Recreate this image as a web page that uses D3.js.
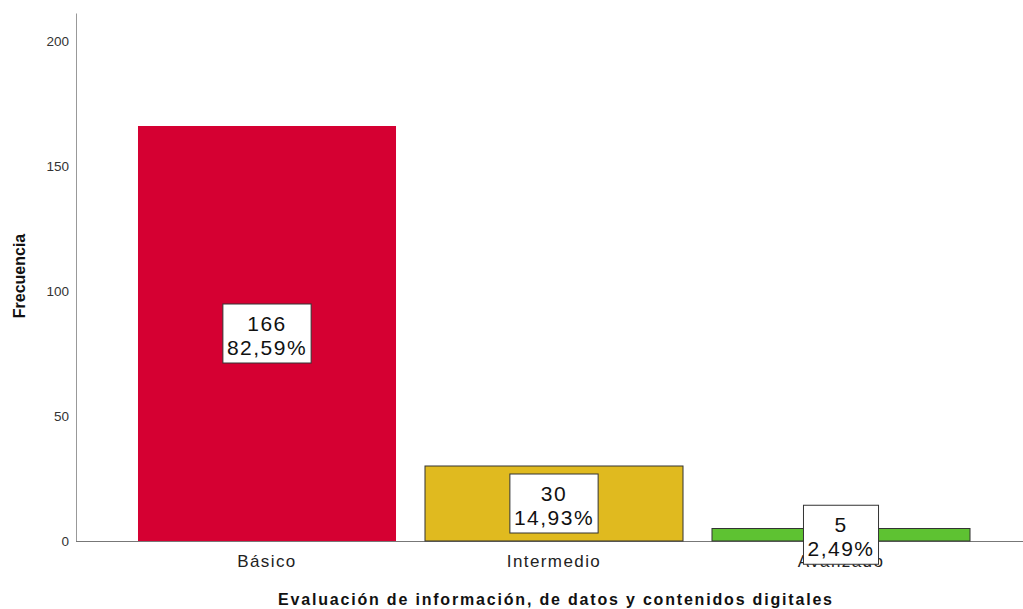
<!DOCTYPE html>
<html>
<head>
<meta charset="utf-8">
<script src="https://cdn.jsdelivr.net/npm/d3@7"></script>
<style>
  body { margin: 0; background: #fff; }
  svg { display: block; font-family: Arial, "Liberation Sans", sans-serif; }
</style>
</head>
<body>
<div id="chart"></div>
<script>
const categories = ["Básico", "Intermedio", "Avanzado"];
const counts = [166, 30, 5];
const percents = ["82,59%", "14,93%", "2,49%"];
const barColors = ["#d50032", "#e0ba1f", "#5ec232"];
const yTicks = [0, 50, 100, 150, 200];

const w = 1023, h = 609;
const svg = d3.select("#chart").append("svg")
  .attr("width", w).attr("height", h);

const yScale = d3.scaleLinear().domain([0, 200]).range([541, 41]);
const xScale = d3.scaleBand()
  .domain(categories)
  .range([123.5, 984.5])
  .paddingInner(0.101)
  .paddingOuter(0.0505);

// axis lines
svg.append("line")
  .attr("x1", 76.5).attr("x2", 76.5)
  .attr("y1", yScale(211)).attr("y2", yScale(0))
  .attr("stroke", "#999").attr("stroke-width", 1);
svg.append("line")
  .attr("x1", 76).attr("x2", w)
  .attr("y1", yScale(0) + 0.5).attr("y2", yScale(0) + 0.5)
  .attr("stroke", "#777").attr("stroke-width", 1);

const yAxis = d3.axisLeft(yScale).tickValues(yTicks).tickSize(0).tickPadding(7);
const gy = svg.append("g").attr("transform", "translate(76,0)").call(yAxis);
gy.select(".domain").remove();
gy.selectAll("text").attr("font-size", 13.5).attr("fill", "#333")
  .attr("font-family", "Arial, 'Liberation Sans', sans-serif");

// bars
svg.selectAll("rect.bar")
  .data(categories)
  .enter()
  .append("rect")
  .attr("class", "bar")
  .attr("x", d => xScale(d))
  .attr("y", (d, i) => yScale(counts[i]))
  .attr("width", xScale.bandwidth())
  .attr("height", (d, i) => yScale(0) - yScale(counts[i]))
  .attr("fill", (d, i) => barColors[i])
  .attr("stroke", (d, i) => i === 0 ? "none" : "#333")
  .attr("stroke-width", 1);

// x category labels (drawn before data labels, the last one gets covered)
const xAxis = d3.axisBottom(xScale).tickSize(0);
const gx = svg.append("g").attr("transform", "translate(0," + yScale(0) + ")").call(xAxis);
gx.select(".domain").remove();
gx.selectAll("text")
  .attr("y", 26).attr("dy", 0)
  .attr("font-size", 17).attr("letter-spacing", 1.4).attr("fill", "#222")
  .attr("font-family", "Arial, 'Liberation Sans', sans-serif");

// data labels
const labels = svg.selectAll("g.lbl")
  .data(categories)
  .enter()
  .append("g")
  .attr("class", "lbl")
  .attr("transform", (d, i) => "translate(" + (xScale(d) + xScale.bandwidth() / 2) + "," +
        ((yScale(0) + yScale(counts[i])) / 2) + ")");

labels.each(function(d, i) {
  const g = d3.select(this);
  const rect = g.append("rect").attr("fill", "#fff").attr("stroke", "#333").attr("stroke-width", 1);
  const t1 = g.append("text").attr("text-anchor", "middle").attr("y", -3)
    .attr("font-size", 21).attr("letter-spacing", 1.5).attr("fill", "#111").text(counts[i]);
  const t2 = g.append("text").attr("text-anchor", "middle").attr("y", 21)
    .attr("font-size", 21).attr("letter-spacing", 1.5).attr("fill", "#111").text(percents[i]);
  const bw = Math.max(t1.node().getComputedTextLength(), t2.node().getComputedTextLength()) + 8;
  rect.attr("x", -bw / 2).attr("y", -29.5).attr("width", bw).attr("height", 59);
});

// axis titles
svg.append("text")
  .attr("x", 555).attr("y", 605)
  .attr("text-anchor", "middle")
  .attr("font-size", 16).attr("font-weight", "bold").attr("fill", "#111")
  .attr("textLength", 554).attr("lengthAdjust", "spacing")
  .text("Evaluación de información, de datos y contenidos digitales");

svg.append("text")
  .attr("transform", "translate(25,276) rotate(-90)")
  .attr("text-anchor", "middle")
  .attr("font-size", 16).attr("font-weight", "bold").attr("fill", "#111")
  .text("Frecuencia");
</script>
</body>
</html>
